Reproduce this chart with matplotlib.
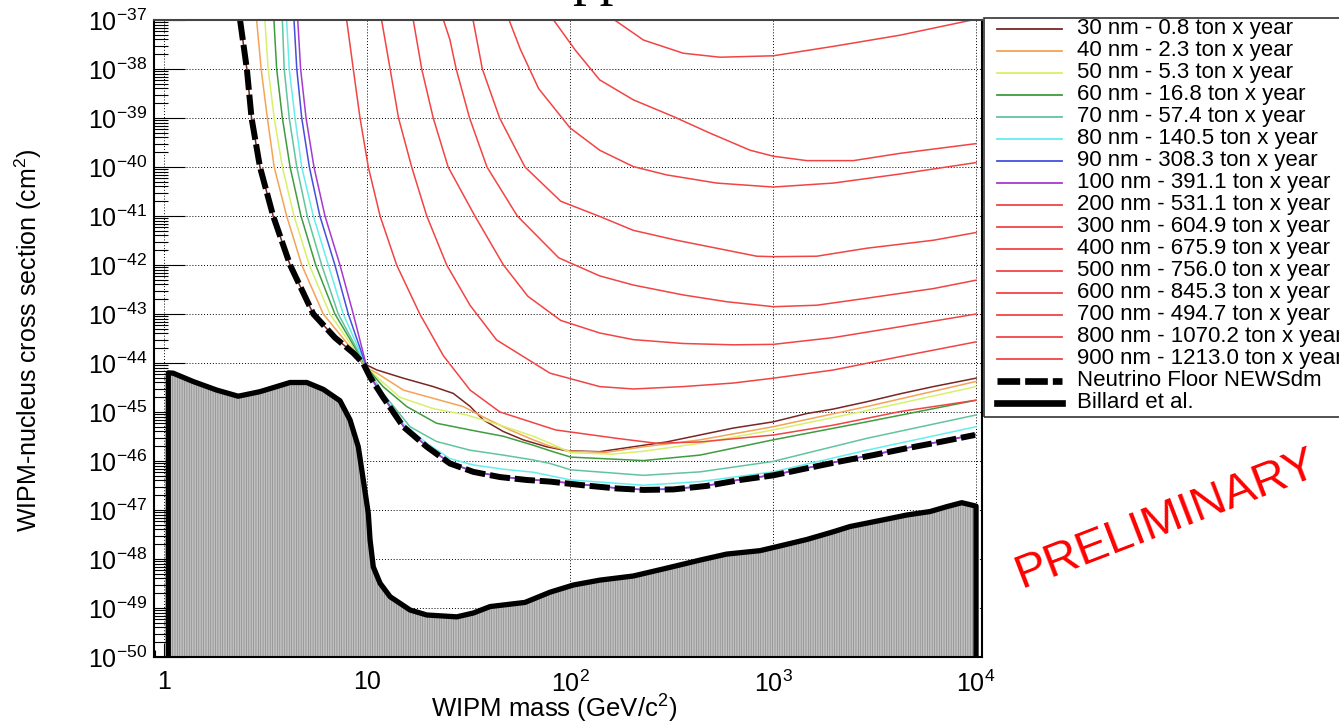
import numpy as np
import matplotlib
matplotlib.use("Agg")
import matplotlib.pyplot as plt
from matplotlib.lines import Line2D
from matplotlib.patches import Rectangle
from matplotlib.ticker import FixedLocator, FixedFormatter, LogLocator, NullFormatter

plt.rcParams['font.family'] = ['Liberation Sans', 'DejaVu Sans']
plt.rcParams['mathtext.fontset'] = 'custom'
plt.rcParams['mathtext.rm'] = 'Liberation Sans'
plt.rcParams['mathtext.it'] = 'Liberation Sans:italic'
plt.rcParams['mathtext.bf'] = 'Liberation Sans:bold'
plt.rcParams['hatch.linewidth'] = 0.5
plt.rcParams['hatch.color'] = '#8f8f8f'

# ---------------- data: WIMP mass [GeV/c^2] and cross section [cm^2] ----------------
floor_mass = [2.37, 2.56, 2.70, 2.97, 3.45, 4.18, 5.44, 6.95, 8.56, 9.59, 10.35, 12.0,
              15.1, 19.7, 25.6, 33.4, 45.2, 61.2, 79.7, 116, 170, 230, 323, 471, 688,
              1003, 1466, 2138, 3119, 4557, 6650, 9890]
floor_xsec = [1e-37, 1e-38, 1e-39, 1e-40, 1e-41, 1e-42, 1.0e-43, 3.3e-44, 1.6e-44, 9.8e-45,
              5.2e-45, 2.0e-45, 5.0e-46, 1.95e-46, 8.9e-47, 6.0e-47, 4.7e-47, 4.1e-47,
              3.8e-47, 3.2e-47, 2.75e-47, 2.57e-47, 2.63e-47, 3.1e-47, 4.1e-47, 5.1e-47,
              7.1e-47, 9.8e-47, 1.32e-46, 1.82e-46, 2.45e-46, 3.4e-46]

billard_mass = [1.05, 1.05, 1.11, 1.39, 1.82, 2.32, 2.97, 4.18, 5.05, 6.09, 7.36, 8.25, 9.06,
                9.59, 10.15, 10.35, 10.74, 11.6, 13.0, 16.3, 19.7, 27.7, 33.4, 40.4, 60,
                79.7, 104, 140, 205, 299, 437, 591, 863, 1042, 1466, 1983, 2394, 3494,
                4557, 5935, 7174, 8506, 9525, 10000, 10000]
billard_xsec = [1e-52, 6.3e-45, 6.2e-45, 4.2e-45, 2.8e-45, 2.1e-45, 2.6e-45, 4.0e-45, 4.0e-45,
                2.9e-45, 1.7e-45, 6.9e-46, 1.95e-46, 4.1e-47, 8.5e-48, 2.5e-48, 6.9e-49,
                3.2e-49, 1.7e-49, 9.1e-50, 7.2e-50, 6.6e-50, 7.9e-50, 1.07e-49, 1.3e-49,
                2.1e-49, 2.95e-49, 3.7e-49, 4.5e-49, 6.5e-49, 9.5e-49, 1.26e-48, 1.48e-48,
                1.78e-48, 2.5e-48, 3.6e-48, 4.6e-48, 6.3e-48, 7.9e-48, 9.3e-48, 1.17e-47,
                1.41e-47, 1.26e-47, 1.2e-47, 1e-52]

mass_30nm = [2.37, 2.56, 2.70, 2.97, 3.45, 4.18, 5.44, 6.95, 8.56, 9.59, 11.2, 15.1, 21.2,
             26.6, 32.2, 37.4, 46.9, 58.9, 76.8, 96.4, 140, 205, 299, 437, 637, 1003, 1466,
             1983, 2896, 4224, 6163, 10000]
xsec_30nm = [1e-37, 1e-38, 1e-39, 1e-40, 1e-41, 1e-42, 1.0e-43, 3.3e-44, 1.6e-44, 9.8e-45,
             7.2e-45, 4.9e-45, 3.3e-45, 2.4e-45, 1.3e-45, 6.9e-46, 4.0e-46, 2.7e-46, 1.95e-46,
             1.62e-46, 1.55e-46, 1.95e-46, 2.45e-46, 3.4e-46, 4.7e-46, 6.3e-46, 9.3e-46,
             1.15e-45, 1.62e-45, 2.35e-45, 3.3e-45, 4.9e-45]

mass_40nm = [2.86, 3.01, 3.23, 3.49, 4.02, 4.77, 6.09, 7.62, 10.0, 11.2, 15.1, 21.2, 29.8,
             37.4, 50.6, 65.9, 79.7, 101, 150, 230, 437, 1000, 2896, 10000]
xsec_40nm = [1e-37, 1e-38, 1e-39, 1e-40, 1e-41, 1e-42, 1e-43, 3.2e-44, 7.9e-45, 6.2e-45,
             2.8e-45, 1.9e-45, 1.29e-45, 7.9e-46, 4.3e-46, 2.7e-46, 2.0e-46, 1.58e-46,
             1.5e-46, 1.95e-46, 2.7e-46, 5.0e-46, 1.29e-45, 4.2e-45]

mass_50nm = [3.14, 3.26, 3.49, 3.83, 4.37, 5.20, 6.57, 7.94, 10.0, 11.2, 14.5, 21.2, 31.0,
             45.2, 65.9, 79.7, 101, 160, 230, 437, 1000, 2896, 10000]
xsec_50nm = [1e-37, 1e-38, 1e-39, 1e-40, 1e-41, 1e-42, 1e-43, 3.2e-44, 7.9e-45, 5.2e-45,
             2.0e-45, 1.17e-45, 8.7e-46, 5.4e-46, 3.2e-46, 2.3e-46, 1.48e-46, 1.38e-46,
             1.58e-46, 2.3e-46, 4.3e-46, 1.07e-45, 3.3e-45]

mass_60nm = [3.48, 3.59, 3.83, 4.18, 4.73, 5.59, 6.95, 8.19, 10.0, 12.0, 15.7, 22.0, 32.2,
             46.9, 65.9, 79.7, 101, 230, 437, 1000, 2896, 10000]
xsec_60nm = [1e-37, 1e-38, 1e-39, 1e-40, 1e-41, 1e-42, 1e-43, 3.2e-44, 7.9e-45, 3.3e-45,
             1.29e-45, 5.9e-46, 4.3e-46, 3.2e-46, 2.1e-46, 1.62e-46, 1.2e-46, 1.02e-46,
             1.32e-46, 2.7e-46, 6.3e-46, 1.74e-45]

mass_70nm = [3.83, 3.91, 4.14, 4.51, 5.08, 5.98, 7.22, 8.36, 10.0, 12.0, 16.3, 22.0, 32.2,
             46.9, 65.9, 79.7, 101, 230, 437, 1000, 2896, 10000]
xsec_70nm = [1e-37, 1e-38, 1e-39, 1e-40, 1e-41, 1e-42, 1e-43, 3.2e-44, 7.9e-45, 2.4e-45,
             5.0e-46, 2.5e-46, 1.66e-46, 1.32e-46, 1.05e-46, 8.9e-47, 6.6e-47, 5.1e-47,
             6.0e-47, 9.8e-47, 2.9e-46, 8.7e-46]

mass_80nm = [4.02, 4.14, 4.42, 4.77, 5.44, 6.45, 7.64, 8.63, 10.0, 12.0, 15.1, 19.7, 25.6,
             33.4, 46.9, 65.9, 101, 230, 437, 1000, 2896, 10000]
xsec_80nm = [1e-37, 1e-38, 1e-39, 1e-40, 1e-41, 1e-42, 1e-43, 3.2e-44, 7.9e-45, 2.2e-45,
             5.8e-46, 2.3e-46, 1.12e-46, 8.3e-47, 6.8e-47, 5.9e-47, 4.1e-47, 3.2e-47,
             3.8e-47, 6.0e-47, 1.66e-46, 5.0e-46]

mass_90nm = [4.37, 4.51, 4.77, 5.20, 5.86, 6.95, 8.09, 8.89, 10.0, 10.35, 12.0, 15.1, 19.7,
             25.6, 33.4, 45.2, 61.2, 79.7, 116, 170, 230, 323, 471, 688, 1003, 1466, 2138,
             3119, 4557, 6650, 9890]
xsec_90nm = [1e-37, 1e-38, 1e-39, 1e-40, 1e-41, 1e-42, 1e-43, 3.2e-44, 7.9e-45, 5.3e-45,
             2.05e-45, 5.1e-46, 2.0e-46, 9.1e-47, 6.1e-47, 4.8e-47, 4.2e-47, 3.9e-47,
             3.3e-47, 2.8e-47, 2.6e-47, 2.7e-47, 3.15e-47, 4.2e-47, 5.2e-47, 7.2e-47,
             1.0e-46, 1.35e-46, 1.86e-46, 2.5e-46, 3.5e-46]

mass_100nm = [4.56, 4.71, 5.01, 5.48, 6.21, 7.36, 8.56, 9.18, 10.0, 10.35, 12.0, 15.1, 19.7,
              25.6, 33.4, 45.2, 61.2, 79.7, 116, 170, 230, 323, 471, 688, 1003, 1466, 2138,
              3119, 4557, 6650, 9890]
xsec_100nm = [1e-37, 1e-38, 1e-39, 1e-40, 1e-41, 1e-42, 1e-43, 3.2e-44, 7.9e-45, 5.4e-45,
              2.1e-45, 5.2e-46, 2.0e-46, 9.2e-47, 6.2e-47, 4.85e-47, 4.2e-47, 3.9e-47,
              3.3e-47, 2.8e-47, 2.6e-47, 2.65e-47, 3.1e-47, 4.15e-47, 5.15e-47, 7.15e-47,
              9.9e-47, 1.33e-46, 1.84e-46, 2.47e-46, 3.45e-46]

mass_200nm = [7.94, 8.56, 9.24, 10.15, 11.6, 14.0, 18.2, 23.8, 32.2, 45.2, 85, 170, 267, 437,
              1008, 1983, 4224, 10000]
xsec_200nm = [1e-37, 1e-38, 1e-39, 1e-40, 1e-41, 1e-42, 1e-43, 1.4e-44, 2.8e-45, 1.0e-45,
              4.3e-46, 2.9e-46, 2.3e-46, 2.45e-46, 3.4e-46, 5.4e-46, 1.02e-45, 1.74e-45]

mass_300nm = [11.8, 13.0, 14.3, 16.6, 19.7, 24.7, 32.2, 43.5, 79.7, 140, 205, 361, 637, 1003,
              1983, 4224, 10000]
xsec_300nm = [1e-37, 1e-38, 1e-39, 1e-40, 1e-41, 1e-42, 1.5e-43, 2.95e-44, 6.2e-45, 3.3e-45,
              2.95e-45, 3.3e-45, 3.9e-45, 4.9e-45, 7.2e-45, 1.35e-44, 2.7e-44]

mass_400nm = [16.9, 18.6, 21.2, 25.1, 34, 47, 62, 90, 140, 205, 361, 637, 1003, 1983, 4224,
              10000]
xsec_400nm = [1e-37, 1e-38, 1e-39, 1e-40, 1e-41, 1e-42, 2.3e-43, 7.4e-44, 4.1e-44, 3.0e-44,
              2.5e-44, 2.35e-44, 2.4e-44, 3.3e-44, 5.5e-44, 1.0e-43]

mass_500nm = [23.8, 25.6, 27.5, 32, 39, 55, 88, 140, 205, 361, 591, 1003, 1641, 2896, 6163,
              10000]
xsec_500nm = [1e-37, 4e-38, 1e-38, 1e-39, 1e-40, 1e-41, 1.4e-42, 6.0e-43, 3.9e-43, 2.45e-43,
              1.78e-43, 1.41e-43, 1.51e-43, 2.1e-43, 3.3e-43, 4.9e-43]

mass_600nm = [33.3, 37, 45, 60, 90, 140, 205, 335, 528, 832, 1003, 1641, 2896, 6163, 10000]
xsec_600nm = [1e-37, 1e-38, 1e-39, 1e-40, 2.0e-41, 9.8e-42, 5.1e-42, 3.2e-42, 2.2e-42,
              1.51e-42, 1.48e-42, 1.51e-42, 2.2e-42, 3.2e-42, 4.6e-42]

mass_700nm = [50.1, 57, 70, 100, 140, 205, 299, 528, 1003, 1983, 4224, 10000]
xsec_700nm = [1e-37, 2.5e-38, 4.0e-39, 6.3e-40, 2.2e-40, 1.02e-40, 6.9e-41, 4.7e-41, 3.9e-41,
              4.7e-41, 7.2e-41, 1.23e-40]

mass_800nm = [83, 106, 140, 205, 323, 490, 771, 1003, 1466, 2488, 4224, 10000]
xsec_800nm = [1e-37, 2.45e-38, 6.0e-39, 2.35e-39, 1.07e-39, 4.9e-40, 2.2e-40, 1.66e-40,
              1.35e-40, 1.35e-40, 1.9e-40, 3.0e-40]

mass_900nm = [160, 170, 230, 361, 548, 1003, 1983, 4224, 9340, 10000]
xsec_900nm = [1.1e-37, 9.3e-38, 3.9e-38, 2.1e-38, 1.74e-38, 1.86e-38, 2.9e-38, 4.9e-38,
              9.8e-38, 1.05e-37]

thresholds = ['30', '40', '50', '60', '70', '80', '90', '100', '200', '300', '400', '500',
              '600', '700', '800', '900']
exposures = ['0.8', '2.3', '5.3', '16.8', '57.4', '140.5', '308.3', '391.1', '531.1', '604.9',
             '675.9', '756.0', '845.3', '494.7', '1070.2', '1213.0']

x_tick_values = [1, 10, 100, 1000, 10000]
x_tick_labels = ['1', '10', r'$10^{2}$', r'$10^{3}$', r'$10^{4}$']
y_exponents = list(range(-50, -36))

# ---------------- styling ----------------
red = '#f24444'
curve_colors = ['#7a2626', '#f5a356', '#d8f06a', '#3f9c3f', '#62c49e', '#66eeee', '#4250dd',
                '#a63ad0'] + [red] * 8
curves = [(mass_30nm, xsec_30nm), (mass_40nm, xsec_40nm), (mass_50nm, xsec_50nm),
          (mass_60nm, xsec_60nm), (mass_70nm, xsec_70nm), (mass_80nm, xsec_80nm),
          (mass_90nm, xsec_90nm), (mass_100nm, xsec_100nm), (mass_200nm, xsec_200nm),
          (mass_300nm, xsec_300nm), (mass_400nm, xsec_400nm), (mass_500nm, xsec_500nm),
          (mass_600nm, xsec_600nm), (mass_700nm, xsec_700nm), (mass_800nm, xsec_800nm),
          (mass_900nm, xsec_900nm)]

W, H = 1339, 721
fig = plt.figure(figsize=(W / 100, H / 100), dpi=100)
ax = fig.add_axes([154 / W, (H - 657) / H, (982 - 154) / W, (657 - 20) / H])
ax.set_xscale('log')
ax.set_yscale('log')

thin = 1.1
for (m, s), c in zip(curves, curve_colors):
    ax.plot(m, s, color=c, lw=thin, zorder=3)

ax.fill_between(billard_mass, billard_xsec, 1e-53, facecolor='#c0c0c0',
                edgecolor='#8a8a8a', hatch='|' * 7, linewidth=0, zorder=2)
ax.plot(billard_mass, billard_xsec, color='black', lw=3.8, solid_joinstyle='round', zorder=4)
ax.plot(floor_mass, floor_xsec, color='black', lw=4.3, dashes=(3.4, 0.8),
        dash_capstyle='butt', zorder=5)

ax.set_xlim(0.893, 1.07e4)
ax.set_ylim(1e-50, 1e-37)

ax.xaxis.set_major_locator(FixedLocator(x_tick_values))
ax.xaxis.set_major_formatter(FixedFormatter(x_tick_labels))
ax.xaxis.set_minor_locator(LogLocator(base=10, subs=np.arange(2, 10), numticks=60))
ax.xaxis.set_minor_formatter(NullFormatter())
ax.yaxis.set_major_locator(FixedLocator([10.0 ** e for e in y_exponents]))
ax.yaxis.set_major_formatter(FixedFormatter([r'$10^{%d}$' % e for e in y_exponents]))
ax.yaxis.set_minor_locator(LogLocator(base=10, subs=np.arange(2, 10), numticks=60))
ax.yaxis.set_minor_formatter(NullFormatter())

ax.tick_params(axis='both', which='both', direction='in', width=0.8, colors='black')
ax.tick_params(axis='x', which='major', length=10, pad=9.5, labelsize=18)
ax.tick_params(axis='x', which='minor', length=5)
ax.tick_params(axis='y', which='major', length=22, pad=5, labelsize=18)
ax.tick_params(axis='y', which='minor', length=10)

ax.grid(True, which='major', color='black', lw=0.7, ls=(0, (1, 2)))
for sp in ax.spines.values():
    sp.set_linewidth(1.5)
    sp.set_zorder(6)
ax.spines['top'].set_color('#444444')

fig.text(554 / W, 1 - 709 / H, r'WIPM mass (GeV/c$^{2}$)', fontsize=18.5,
         ha='center', va='center')
fig.text(28 / W, 1 - 340 / H, r'WIPM-nucleus cross section (cm$^{2}$)', fontsize=18,
         ha='center', va='center', rotation=90)

# title, mostly above the canvas
fig.text(600 / W, 1 + 6 / H, 'pp', fontsize=40, family='Liberation Serif',
         ha='center', va='baseline')

# ---------------- legend ----------------
leg_left, leg_top, leg_bottom = 984, 18, 417
fig.add_artist(Rectangle((leg_left / W, 1 - leg_bottom / H), (W + 20 - leg_left) / W,
                         (leg_bottom - leg_top) / H, transform=fig.transFigure,
                         fill=False, edgecolor='#333333', lw=1.2))
labels = ['%s nm - %s ton x year' % (t, e) for t, e in zip(thresholds, exposures)]
labels += ['Neutrino Floor NEWSdm', 'Billard et al.']
row0, drow = 28.5, 22.0
for i, lab in enumerate(labels):
    yy = 1 - (row0 + i * drow) / H
    if i < len(curve_colors):
        ln = Line2D([997 / W, 1062 / W], [yy, yy], color=curve_colors[i], lw=1.3,
                    transform=fig.transFigure)
    elif lab.startswith('Neutrino'):
        ln = Line2D([997 / W, 1062 / W], [yy, yy], color='black', lw=4.8,
                    dashes=(3.4, 0.75), dash_capstyle='butt', transform=fig.transFigure)
    else:
        ln = Line2D([997 / W, 1062 / W], [yy, yy], color='black', lw=4.8,
                    transform=fig.transFigure)
    fig.add_artist(ln)
    fig.text(1077 / W, yy, lab, fontsize=16, ha='left', va='center')

fig.text(1166 / W, 1 - 520 / H, 'PRELIMINARY', color='#ff0000', fontsize=34,
         rotation=21, ha='center', va='center', rotation_mode='anchor')

fig.savefig('out.png', dpi=100)
